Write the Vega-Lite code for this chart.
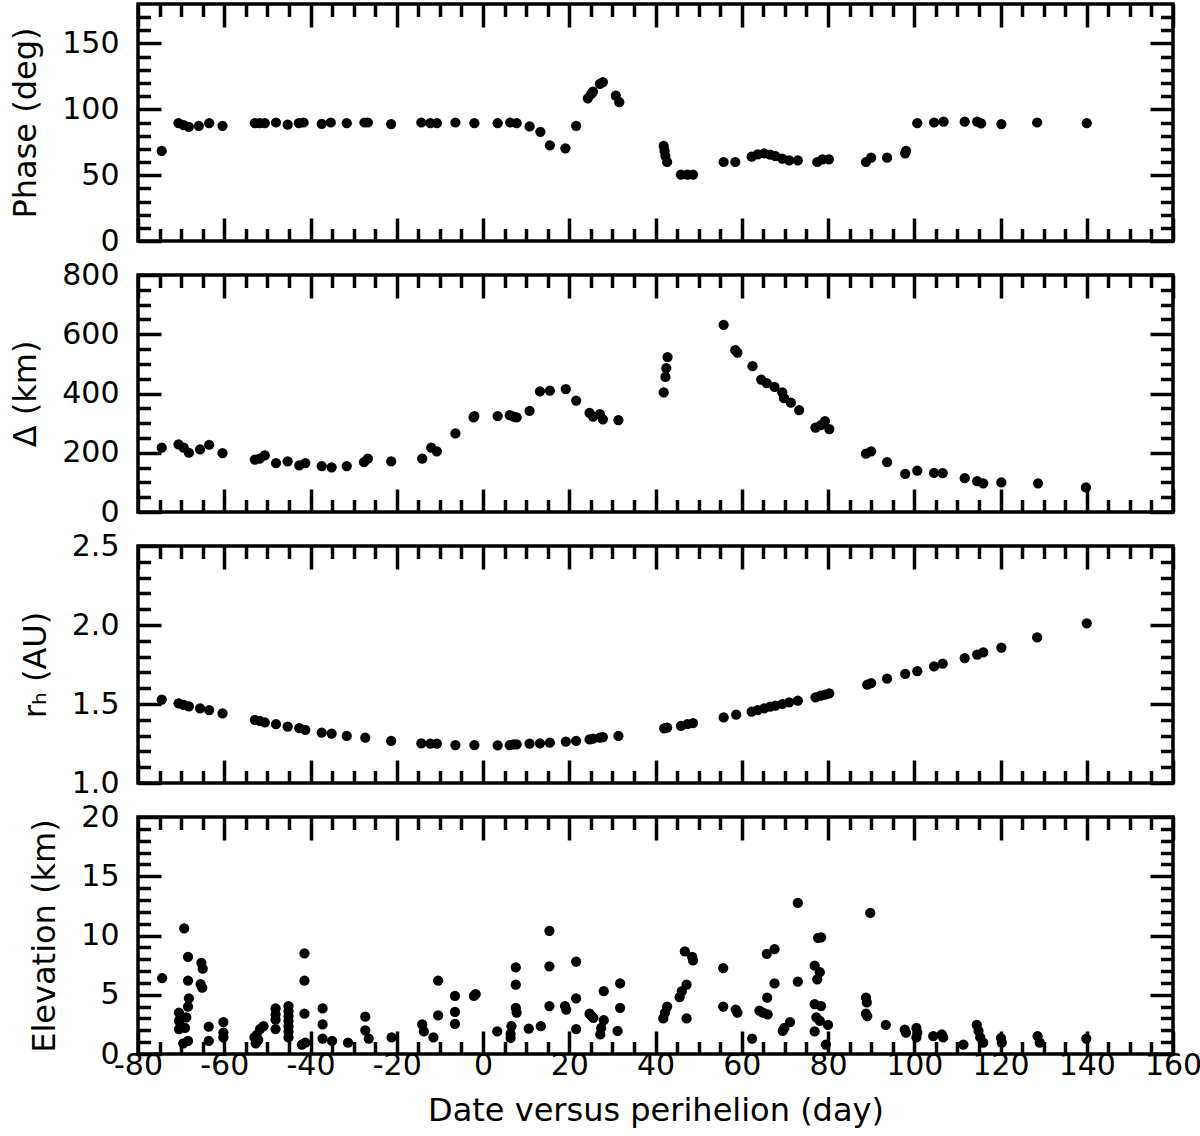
{
  "$schema": "https://vega.github.io/schema/vega-lite/v6.json",
  "padding": {"left": 7, "top": 0, "right": 0, "bottom": 0},
  "background": "white",
  "bounds": "flush",
  "spacing": 34,
  "datasets": {
    "phase": [
      {"day": -74.5, "value": 68.4}, {"day": -70.6, "value": 89.5}, {"day": -69.4, "value": 88.0}, {"day": -68.2, "value": 86.7},
      {"day": -65.9, "value": 87.5}, {"day": -63.5, "value": 89.5}, {"day": -60.4, "value": 87.5}, {"day": -52.9, "value": 89.5},
      {"day": -51.8, "value": 89.5}, {"day": -50.6, "value": 89.5}, {"day": -48.0, "value": 90}, {"day": -45.3, "value": 88.3},
      {"day": -42.7, "value": 89.5}, {"day": -41.6, "value": 90}, {"day": -37.4, "value": 89}, {"day": -35.3, "value": 90},
      {"day": -31.6, "value": 89.5}, {"day": -27.5, "value": 90}, {"day": -26.7, "value": 90}, {"day": -21.3, "value": 88.8},
      {"day": -14.3, "value": 90}, {"day": -12.2, "value": 89.5}, {"day": -10.7, "value": 89.5}, {"day": -6.4, "value": 90},
      {"day": -2.0, "value": 89.5}, {"day": 3.4, "value": 89.5}, {"day": 6.3, "value": 90}, {"day": 7.8, "value": 89.5},
      {"day": 10.8, "value": 87}, {"day": 13.3, "value": 82.9}, {"day": 15.5, "value": 72.7}, {"day": 19.1, "value": 70.4},
      {"day": 21.6, "value": 87.5}, {"day": 24.3, "value": 108.4}, {"day": 25.1, "value": 111.7}, {"day": 25.5, "value": 113.5},
      {"day": 27.1, "value": 119.4}, {"day": 27.8, "value": 120.7}, {"day": 30.8, "value": 110.5}, {"day": 31.6, "value": 105.4},
      {"day": 41.9, "value": 72.2}, {"day": 42.1, "value": 68.4}, {"day": 42.3, "value": 64.5}, {"day": 42.7, "value": 60.0},
      {"day": 45.9, "value": 50.5}, {"day": 47.4, "value": 50.5}, {"day": 48.7, "value": 50.5}, {"day": 55.8, "value": 60},
      {"day": 58.5, "value": 60}, {"day": 62.3, "value": 64}, {"day": 63.7, "value": 65.8}, {"day": 65.2, "value": 66.6},
      {"day": 66.6, "value": 65.6}, {"day": 67.8, "value": 64.5}, {"day": 69.4, "value": 62.5}, {"day": 71.0, "value": 61.2},
      {"day": 73.0, "value": 61.2}, {"day": 77.5, "value": 60}, {"day": 78.7, "value": 62}, {"day": 80.2, "value": 62},
      {"day": 88.8, "value": 60}, {"day": 90.0, "value": 63.3}, {"day": 93.7, "value": 63.3}, {"day": 97.9, "value": 66.6},
      {"day": 98.1, "value": 68.5}, {"day": 100.7, "value": 89.5}, {"day": 104.6, "value": 90}, {"day": 106.8, "value": 90.6},
      {"day": 111.7, "value": 90.6}, {"day": 114.6, "value": 90.6}, {"day": 115.5, "value": 89.3}, {"day": 120.2, "value": 88.8},
      {"day": 128.5, "value": 90}, {"day": 140, "value": 89.5}
    ],
    "delta": [
      {"day": -74.5, "value": 217}, {"day": -70.6, "value": 228}, {"day": -69.4, "value": 217}, {"day": -68.2, "value": 200},
      {"day": -65.6, "value": 211}, {"day": -63.5, "value": 227}, {"day": -60.4, "value": 199}, {"day": -52.9, "value": 177},
      {"day": -51.8, "value": 180}, {"day": -50.6, "value": 191}, {"day": -48.0, "value": 165}, {"day": -45.3, "value": 171},
      {"day": -42.6, "value": 157}, {"day": -41.2, "value": 165}, {"day": -37.4, "value": 155}, {"day": -35.1, "value": 151},
      {"day": -31.6, "value": 155}, {"day": -27.6, "value": 168}, {"day": -26.7, "value": 180}, {"day": -21.3, "value": 171},
      {"day": -14.1, "value": 180}, {"day": -12.0, "value": 217}, {"day": -10.7, "value": 205}, {"day": -6.4, "value": 265},
      {"day": -2.2, "value": 319}, {"day": -2.0, "value": 324}, {"day": 3.4, "value": 324}, {"day": 6.2, "value": 327},
      {"day": 7.1, "value": 322}, {"day": 7.8, "value": 319}, {"day": 10.8, "value": 341}, {"day": 13.2, "value": 407},
      {"day": 15.5, "value": 410}, {"day": 19.2, "value": 415}, {"day": 21.6, "value": 376}, {"day": 24.7, "value": 335},
      {"day": 25.5, "value": 322}, {"day": 27.1, "value": 330}, {"day": 27.8, "value": 313}, {"day": 31.4, "value": 310},
      {"day": 41.9, "value": 404}, {"day": 42.3, "value": 456}, {"day": 42.5, "value": 486}, {"day": 42.8, "value": 523},
      {"day": 55.8, "value": 632}, {"day": 58.5, "value": 546}, {"day": 59.0, "value": 538}, {"day": 62.5, "value": 492},
      {"day": 64.5, "value": 447}, {"day": 65.8, "value": 435}, {"day": 67.6, "value": 422}, {"day": 69.4, "value": 404},
      {"day": 69.8, "value": 384}, {"day": 71.4, "value": 369}, {"day": 73.3, "value": 344}, {"day": 77.1, "value": 285},
      {"day": 78.3, "value": 293}, {"day": 79.3, "value": 307}, {"day": 80.3, "value": 280}, {"day": 88.8, "value": 197},
      {"day": 90.0, "value": 205}, {"day": 93.7, "value": 168}, {"day": 97.9, "value": 129}, {"day": 100.7, "value": 140},
      {"day": 104.6, "value": 132}, {"day": 106.6, "value": 131}, {"day": 111.7, "value": 114}, {"day": 114.6, "value": 104},
      {"day": 116.0, "value": 97}, {"day": 120.2, "value": 100}, {"day": 128.7, "value": 97}, {"day": 139.8, "value": 83}
    ],
    "rh": [
      {"day": -74.5, "value": 1.528}, {"day": -70.6, "value": 1.504}, {"day": -69.4, "value": 1.494}, {"day": -68.2, "value": 1.485},
      {"day": -65.6, "value": 1.472}, {"day": -63.5, "value": 1.462}, {"day": -60.4, "value": 1.44}, {"day": -52.9, "value": 1.40},
      {"day": -51.8, "value": 1.393}, {"day": -50.6, "value": 1.383}, {"day": -48.0, "value": 1.372}, {"day": -45.3, "value": 1.357},
      {"day": -42.6, "value": 1.347}, {"day": -41.2, "value": 1.336}, {"day": -37.4, "value": 1.319}, {"day": -35.1, "value": 1.313},
      {"day": -31.6, "value": 1.298}, {"day": -27.3, "value": 1.287}, {"day": -21.3, "value": 1.266}, {"day": -14.3, "value": 1.251},
      {"day": -12.2, "value": 1.249}, {"day": -10.7, "value": 1.249}, {"day": -6.4, "value": 1.24}, {"day": -2.0, "value": 1.24},
      {"day": 3.4, "value": 1.238}, {"day": 6.2, "value": 1.24}, {"day": 7.1, "value": 1.245}, {"day": 7.8, "value": 1.245},
      {"day": 10.8, "value": 1.249}, {"day": 13.2, "value": 1.251}, {"day": 15.5, "value": 1.255}, {"day": 19.2, "value": 1.262},
      {"day": 21.6, "value": 1.266}, {"day": 24.7, "value": 1.276}, {"day": 25.5, "value": 1.281}, {"day": 27.1, "value": 1.287},
      {"day": 27.8, "value": 1.291}, {"day": 31.4, "value": 1.298}, {"day": 42.0, "value": 1.345}, {"day": 42.7, "value": 1.351},
      {"day": 45.9, "value": 1.362}, {"day": 47.4, "value": 1.372}, {"day": 48.7, "value": 1.379}, {"day": 55.8, "value": 1.415},
      {"day": 58.7, "value": 1.432}, {"day": 62.3, "value": 1.451}, {"day": 63.7, "value": 1.462}, {"day": 65.2, "value": 1.472},
      {"day": 66.6, "value": 1.483}, {"day": 67.8, "value": 1.489}, {"day": 69.4, "value": 1.5}, {"day": 71.0, "value": 1.511},
      {"day": 73.0, "value": 1.521}, {"day": 77.1, "value": 1.542}, {"day": 78.3, "value": 1.553}, {"day": 79.3, "value": 1.559},
      {"day": 80.3, "value": 1.568}, {"day": 89.1, "value": 1.623}, {"day": 90.0, "value": 1.632}, {"day": 93.7, "value": 1.66},
      {"day": 97.9, "value": 1.691}, {"day": 100.7, "value": 1.708}, {"day": 104.6, "value": 1.738}, {"day": 106.6, "value": 1.755},
      {"day": 111.7, "value": 1.791}, {"day": 114.6, "value": 1.813}, {"day": 116.0, "value": 1.826}, {"day": 120.2, "value": 1.857},
      {"day": 128.5, "value": 1.921}, {"day": 140.0, "value": 2.011}
    ],
    "elev": [
      {"day": -74.4, "value": 6.4}, {"day": -69.3, "value": 10.6}, {"day": -68.4, "value": 8.2}, {"day": -68.4, "value": 6.2},
      {"day": -68.2, "value": 4.7}, {"day": -68.4, "value": 4.0}, {"day": -70.5, "value": 3.5}, {"day": -70.5, "value": 2.8},
      {"day": -70.5, "value": 2.1}, {"day": -69.9, "value": 3.0}, {"day": -68.8, "value": 3.1}, {"day": -69.1, "value": 2.2},
      {"day": -69.5, "value": 0.9}, {"day": -68.4, "value": 1.1}, {"day": -65.3, "value": 7.7}, {"day": -65.0, "value": 7.2},
      {"day": -65.5, "value": 5.9}, {"day": -65.1, "value": 5.6}, {"day": -63.6, "value": 2.3}, {"day": -63.6, "value": 1.1},
      {"day": -60.2, "value": 2.7}, {"day": -60.2, "value": 1.8}, {"day": -60.2, "value": 1.4}, {"day": -53.0, "value": 1.4},
      {"day": -52.5, "value": 1.6}, {"day": -51.7, "value": 2.1}, {"day": -50.9, "value": 2.35}, {"day": -52.7, "value": 0.9},
      {"day": -52.1, "value": 1.2}, {"day": -48.1, "value": 3.85}, {"day": -48.1, "value": 3.35}, {"day": -48.1, "value": 2.9},
      {"day": -48.1, "value": 2.1}, {"day": -45.1, "value": 4.05}, {"day": -45.1, "value": 3.6}, {"day": -45.1, "value": 3.2},
      {"day": -45.1, "value": 2.8}, {"day": -45.1, "value": 2.35}, {"day": -45.1, "value": 1.9}, {"day": -45.1, "value": 1.4},
      {"day": -41.4, "value": 8.5}, {"day": -41.4, "value": 6.2}, {"day": -41.4, "value": 3.4}, {"day": -42.0, "value": 0.8},
      {"day": -41.2, "value": 0.95}, {"day": -37.2, "value": 3.85}, {"day": -37.2, "value": 2.5}, {"day": -37.2, "value": 1.3},
      {"day": -35.0, "value": 1.1}, {"day": -31.3, "value": 0.95}, {"day": -27.3, "value": 3.15}, {"day": -27.3, "value": 2.0},
      {"day": -26.5, "value": 1.3}, {"day": -21.2, "value": 1.4}, {"day": -14.1, "value": 2.5}, {"day": -13.7, "value": 1.9},
      {"day": -11.5, "value": 1.4}, {"day": -10.4, "value": 6.2}, {"day": -10.4, "value": 3.25}, {"day": -6.5, "value": 4.9},
      {"day": -6.5, "value": 3.55}, {"day": -6.5, "value": 2.55}, {"day": -2.1, "value": 4.9}, {"day": -1.7, "value": 5.05},
      {"day": 3.3, "value": 1.9}, {"day": 7.6, "value": 7.3}, {"day": 7.6, "value": 5.85}, {"day": 7.6, "value": 3.9},
      {"day": 7.8, "value": 3.5}, {"day": 6.6, "value": 2.35}, {"day": 6.4, "value": 1.7}, {"day": 6.4, "value": 1.35},
      {"day": 10.6, "value": 2.15}, {"day": 13.4, "value": 2.35}, {"day": 15.4, "value": 10.4}, {"day": 15.4, "value": 7.4},
      {"day": 15.4, "value": 4.05}, {"day": 19.0, "value": 4.05}, {"day": 19.3, "value": 3.75}, {"day": 21.6, "value": 7.8},
      {"day": 21.6, "value": 4.7}, {"day": 21.6, "value": 2.1}, {"day": 24.7, "value": 3.4}, {"day": 25.2, "value": 3.2},
      {"day": 25.6, "value": 3.05}, {"day": 28.0, "value": 5.3}, {"day": 28.0, "value": 2.85}, {"day": 27.4, "value": 2.2},
      {"day": 27.2, "value": 1.65}, {"day": 31.8, "value": 5.95}, {"day": 31.8, "value": 3.9}, {"day": 31.2, "value": 1.95},
      {"day": 41.8, "value": 3.0}, {"day": 42.2, "value": 3.5}, {"day": 42.7, "value": 4.0}, {"day": 45.6, "value": 4.8},
      {"day": 46.1, "value": 5.3}, {"day": 47.2, "value": 5.85}, {"day": 47.2, "value": 3.0}, {"day": 46.8, "value": 8.65},
      {"day": 48.5, "value": 8.2}, {"day": 48.7, "value": 7.9}, {"day": 55.7, "value": 7.25}, {"day": 55.7, "value": 4.0},
      {"day": 58.6, "value": 3.75}, {"day": 59.0, "value": 3.5}, {"day": 62.4, "value": 1.3}, {"day": 64.1, "value": 3.65},
      {"day": 64.9, "value": 3.5}, {"day": 66.0, "value": 3.35}, {"day": 65.9, "value": 4.75}, {"day": 67.6, "value": 5.95},
      {"day": 65.8, "value": 8.45}, {"day": 67.6, "value": 8.85}, {"day": 69.5, "value": 1.95}, {"day": 69.9, "value": 2.2},
      {"day": 71.2, "value": 2.7}, {"day": 73.0, "value": 12.75}, {"day": 73.0, "value": 6.1}, {"day": 77.7, "value": 9.8},
      {"day": 78.4, "value": 9.85}, {"day": 76.9, "value": 7.45}, {"day": 78.1, "value": 6.9}, {"day": 77.5, "value": 6.3},
      {"day": 76.9, "value": 4.2}, {"day": 78.4, "value": 4.05}, {"day": 77.3, "value": 3.1}, {"day": 78.1, "value": 2.8},
      {"day": 76.9, "value": 1.9}, {"day": 80.0, "value": 2.45}, {"day": 79.5, "value": 0.8}, {"day": 89.8, "value": 11.9},
      {"day": 88.8, "value": 4.75}, {"day": 89.0, "value": 4.35}, {"day": 88.8, "value": 3.4}, {"day": 89.1, "value": 3.2},
      {"day": 93.4, "value": 2.45}, {"day": 97.8, "value": 2.05}, {"day": 98.1, "value": 1.8}, {"day": 100.5, "value": 2.2},
      {"day": 100.7, "value": 1.8}, {"day": 100.5, "value": 1.4}, {"day": 104.4, "value": 1.5}, {"day": 106.4, "value": 1.65},
      {"day": 106.7, "value": 1.4}, {"day": 111.4, "value": 0.8}, {"day": 114.5, "value": 2.45}, {"day": 114.9, "value": 1.95},
      {"day": 115.3, "value": 1.4}, {"day": 116.0, "value": 0.95}, {"day": 120.1, "value": 1.35}, {"day": 120.3, "value": 0.95},
      {"day": 128.6, "value": 1.5}, {"day": 129.1, "value": 0.95}, {"day": 139.9, "value": 1.3}
    ]
  },
  "vconcat": [
    {
      "width": 1035, "height": 237,
      "data": {"name": "phase"},
      "resolve": {"axis": {"x": "independent", "y": "independent"}},
      "layer": [
        {"mark": {"type": "circle", "size": 105, "color": "black", "opacity": 1},
         "encoding": {
           "x": {"field": "day", "type": "quantitative", "scale": {"domain": [-80, 160], "nice": false, "zero": false},
                 "axis": {"orient": "bottom", "values": [-80,-60,-40,-20,0,20,40,60,80,100,120,140,160], "tickSize": -23, "labels": false, "title": null}},
           "y": {"field": "value", "type": "quantitative", "scale": {"domain": [0, 180], "nice": false, "zero": false},
                 "axis": {"orient": "left", "values": [0,50,100,150], "tickSize": -23, "labelPadding": 42, "title": "Phase (deg)"}}}},
        {"mark": {"type": "circle", "opacity": 0},
         "encoding": {
           "x": {"field": "day", "type": "quantitative", "axis": {"orient": "bottom", "values": [-75,-70,-65,-55,-50,-45,-35,-30,-25,-15,-10,-5,5,10,15,25,30,35,45,50,55,65,70,75,85,90,95,105,110,115,125,130,135,145,150,155], "tickSize": -12.5, "labels": false, "title": null}},
           "y": {"field": "value", "type": "quantitative", "axis": {"orient": "left", "values": [10,20,30,40,60,70,80,90,110,120,130,140,160,170], "tickSize": -12.5, "labels": false, "title": null}}}},
        {"mark": {"type": "circle", "opacity": 0},
         "encoding": {
           "x": {"field": "day", "type": "quantitative", "axis": {"orient": "top", "values": [-80,-60,-40,-20,0,20,40,60,80,100,120,140,160], "tickSize": -23, "labels": false, "title": null}},
           "y": {"field": "value", "type": "quantitative", "axis": {"orient": "right", "values": [0,50,100,150], "tickSize": -23, "labels": false, "title": null}}}},
        {"mark": {"type": "circle", "opacity": 0},
         "encoding": {
           "x": {"field": "day", "type": "quantitative", "axis": {"orient": "top", "values": [-75,-70,-65,-55,-50,-45,-35,-30,-25,-15,-10,-5,5,10,15,25,30,35,45,50,55,65,70,75,85,90,95,105,110,115,125,130,135,145,150,155], "tickSize": -12.5, "labels": false, "title": null}},
           "y": {"field": "value", "type": "quantitative", "axis": {"orient": "right", "values": [10,20,30,40,60,70,80,90,110,120,130,140,160,170], "tickSize": -12.5, "labels": false, "title": null}}}}
      ]
    },
    {
      "width": 1035, "height": 237,
      "data": {"name": "delta"},
      "resolve": {"axis": {"x": "independent", "y": "independent"}},
      "layer": [
        {"mark": {"type": "circle", "size": 105, "color": "black", "opacity": 1},
         "encoding": {
           "x": {"field": "day", "type": "quantitative", "scale": {"domain": [-80, 160], "nice": false, "zero": false},
                 "axis": {"orient": "bottom", "values": [-80,-60,-40,-20,0,20,40,60,80,100,120,140,160], "tickSize": -23, "labels": false, "title": null}},
           "y": {"field": "value", "type": "quantitative", "scale": {"domain": [0, 800], "nice": false, "zero": false},
                 "axis": {"orient": "left", "values": [0,200,400,600,800], "tickSize": -23, "labelPadding": 42, "title": "Δ (km)"}}}},
        {"mark": {"type": "circle", "opacity": 0},
         "encoding": {
           "x": {"field": "day", "type": "quantitative", "axis": {"orient": "bottom", "values": [-75,-70,-65,-55,-50,-45,-35,-30,-25,-15,-10,-5,5,10,15,25,30,35,45,50,55,65,70,75,85,90,95,105,110,115,125,130,135,145,150,155], "tickSize": -12.5, "labels": false, "title": null}},
           "y": {"field": "value", "type": "quantitative", "axis": {"orient": "left", "values": [50,100,150,250,300,350,450,500,550,650,700,750], "tickSize": -12.5, "labels": false, "title": null}}}},
        {"mark": {"type": "circle", "opacity": 0},
         "encoding": {
           "x": {"field": "day", "type": "quantitative", "axis": {"orient": "top", "values": [-80,-60,-40,-20,0,20,40,60,80,100,120,140,160], "tickSize": -23, "labels": false, "title": null}},
           "y": {"field": "value", "type": "quantitative", "axis": {"orient": "right", "values": [0,200,400,600,800], "tickSize": -23, "labels": false, "title": null}}}},
        {"mark": {"type": "circle", "opacity": 0},
         "encoding": {
           "x": {"field": "day", "type": "quantitative", "axis": {"orient": "top", "values": [-75,-70,-65,-55,-50,-45,-35,-30,-25,-15,-10,-5,5,10,15,25,30,35,45,50,55,65,70,75,85,90,95,105,110,115,125,130,135,145,150,155], "tickSize": -12.5, "labels": false, "title": null}},
           "y": {"field": "value", "type": "quantitative", "axis": {"orient": "right", "values": [50,100,150,250,300,350,450,500,550,650,700,750], "tickSize": -12.5, "labels": false, "title": null}}}}
      ]
    },
    {
      "width": 1035, "height": 237,
      "data": {"name": "rh"},
      "resolve": {"axis": {"x": "independent", "y": "independent"}},
      "layer": [
        {"mark": {"type": "circle", "size": 105, "color": "black", "opacity": 1},
         "encoding": {
           "x": {"field": "day", "type": "quantitative", "scale": {"domain": [-80, 160], "nice": false, "zero": false},
                 "axis": {"orient": "bottom", "values": [-80,-60,-40,-20,0,20,40,60,80,100,120,140,160], "tickSize": -23, "labels": false, "title": null}},
           "y": {"field": "value", "type": "quantitative", "scale": {"domain": [1, 2.5], "nice": false, "zero": false},
                 "axis": {"orient": "left", "values": [1.0,1.5,2.0,2.5], "format": ".1f", "tickSize": -23, "labelPadding": 42, "title": "rₕ (AU)"}}}},
        {"mark": {"type": "circle", "opacity": 0},
         "encoding": {
           "x": {"field": "day", "type": "quantitative", "axis": {"orient": "bottom", "values": [-75,-70,-65,-55,-50,-45,-35,-30,-25,-15,-10,-5,5,10,15,25,30,35,45,50,55,65,70,75,85,90,95,105,110,115,125,130,135,145,150,155], "tickSize": -12.5, "labels": false, "title": null}},
           "y": {"field": "value", "type": "quantitative", "axis": {"orient": "left", "values": [1.1,1.2,1.3,1.4,1.6,1.7,1.8,1.9,2.1,2.2,2.3,2.4], "tickSize": -12.5, "labels": false, "title": null}}}},
        {"mark": {"type": "circle", "opacity": 0},
         "encoding": {
           "x": {"field": "day", "type": "quantitative", "axis": {"orient": "top", "values": [-80,-60,-40,-20,0,20,40,60,80,100,120,140,160], "tickSize": -23, "labels": false, "title": null}},
           "y": {"field": "value", "type": "quantitative", "axis": {"orient": "right", "values": [1.0,1.5,2.0,2.5], "tickSize": -23, "labels": false, "title": null}}}},
        {"mark": {"type": "circle", "opacity": 0},
         "encoding": {
           "x": {"field": "day", "type": "quantitative", "axis": {"orient": "top", "values": [-75,-70,-65,-55,-50,-45,-35,-30,-25,-15,-10,-5,5,10,15,25,30,35,45,50,55,65,70,75,85,90,95,105,110,115,125,130,135,145,150,155], "tickSize": -12.5, "labels": false, "title": null}},
           "y": {"field": "value", "type": "quantitative", "axis": {"orient": "right", "values": [1.1,1.2,1.3,1.4,1.6,1.7,1.8,1.9,2.1,2.2,2.3,2.4], "tickSize": -12.5, "labels": false, "title": null}}}}
      ]
    },
    {
      "width": 1035, "height": 237,
      "data": {"name": "elev"},
      "resolve": {"axis": {"x": "independent", "y": "independent"}},
      "layer": [
        {"mark": {"type": "circle", "size": 105, "color": "black", "opacity": 1},
         "encoding": {
           "x": {"field": "day", "type": "quantitative", "scale": {"domain": [-80, 160], "nice": false, "zero": false},
                 "axis": {"orient": "bottom", "values": [-80,-60,-40,-20,0,20,40,60,80,100,120,140,160], "tickSize": -23, "labelPadding": 19,
                          "labelExpr": "datum.value < 0 ? '-' + abs(datum.value) : '' + datum.value",
                          "title": "Date versus perihelion (day)", "titlePadding": 15}},
           "y": {"field": "value", "type": "quantitative", "scale": {"domain": [0, 20], "nice": false, "zero": false},
                 "axis": {"orient": "left", "values": [0,5,10,15,20], "tickSize": -23, "labelPadding": 42, "title": "Elevation (km)"}}}},
        {"mark": {"type": "circle", "opacity": 0},
         "encoding": {
           "x": {"field": "day", "type": "quantitative", "axis": {"orient": "bottom", "values": [-75,-70,-65,-55,-50,-45,-35,-30,-25,-15,-10,-5,5,10,15,25,30,35,45,50,55,65,70,75,85,90,95,105,110,115,125,130,135,145,150,155], "tickSize": -12.5, "labels": false, "title": null}},
           "y": {"field": "value", "type": "quantitative", "axis": {"orient": "left", "values": [1,2,3,4,6,7,8,9,11,12,13,14,16,17,18,19], "tickSize": -12.5, "labels": false, "title": null}}}},
        {"mark": {"type": "circle", "opacity": 0},
         "encoding": {
           "x": {"field": "day", "type": "quantitative", "axis": {"orient": "top", "values": [-80,-60,-40,-20,0,20,40,60,80,100,120,140,160], "tickSize": -23, "labels": false, "title": null}},
           "y": {"field": "value", "type": "quantitative", "axis": {"orient": "right", "values": [0,5,10,15,20], "tickSize": -23, "labels": false, "title": null}}}},
        {"mark": {"type": "circle", "opacity": 0},
         "encoding": {
           "x": {"field": "day", "type": "quantitative", "axis": {"orient": "top", "values": [-75,-70,-65,-55,-50,-45,-35,-30,-25,-15,-10,-5,5,10,15,25,30,35,45,50,55,65,70,75,85,90,95,105,110,115,125,130,135,145,150,155], "tickSize": -12.5, "labels": false, "title": null}},
           "y": {"field": "value", "type": "quantitative", "axis": {"orient": "right", "values": [1,2,3,4,6,7,8,9,11,12,13,14,16,17,18,19], "tickSize": -12.5, "labels": false, "title": null}}}}
      ]
    }
  ],
  "config": {
    "font": "DejaVu Sans",
    "view": {"stroke": "black", "strokeWidth": 3.5, "fill": "white"},
    "axis": {
      "domain": false, "grid": false, "tickColor": "black", "tickWidth": 3.5,
      "labelFont": "DejaVu Sans", "labelFontSize": 30, "labelColor": "black",
      "titleFont": "DejaVu Sans", "titleFontSize": 32, "titleFontWeight": "normal", "titleColor": "black",
      "titlePadding": 19,
      "labelFlush": false, "labelOverlap": false
    }
  }
}
